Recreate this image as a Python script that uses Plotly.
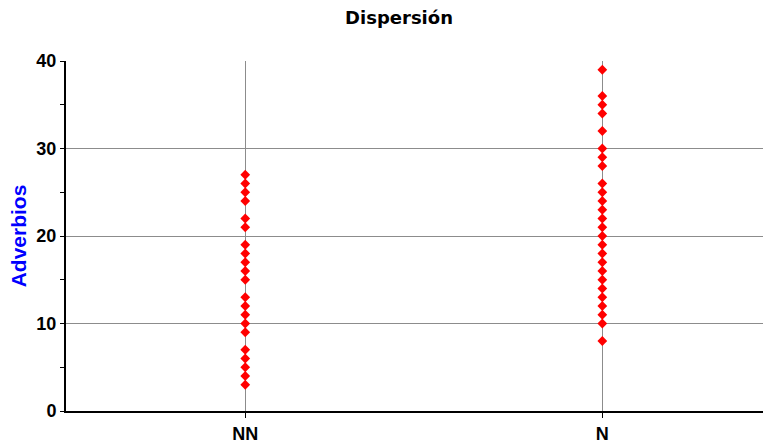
import plotly.graph_objects as go

# Category labels on the x axis
categories = ["NN", "N"]

# Adverb counts observed in each group
nn_values = [27, 26, 25, 24, 22, 21, 19, 18, 17, 16, 15, 13, 12, 11, 10, 9, 7, 6, 5, 4, 3]
n_values = [39, 36, 35, 34, 32, 30, 29, 28, 26, 25, 24, 23, 22, 21, 20, 19, 18, 17,
            16, 15, 14, 13, 12, 11, 10, 8]

y_ticks = [0, 10, 20, 30, 40]

xs = [categories[0]] * len(nn_values) + [categories[1]] * len(n_values)
ys = nn_values + n_values

fig = go.Figure()
fig.add_trace(go.Scatter(
    x=xs, y=ys, mode="markers",
    marker=dict(symbol="diamond", size=7.5, color="#ff0000", line=dict(width=0)),
    showlegend=False, hoverinfo="x+y",
))

fig.update_layout(
    width=763, height=444,
    margin=dict(l=66, r=0, t=61, b=33),
    paper_bgcolor="white", plot_bgcolor="white",
    title=dict(text="<b>Dispersión</b>", x=0.523, xanchor="center", y=0.96, yanchor="middle",
               font=dict(family="DejaVu Sans", size=18, color="black")),
    xaxis=dict(
        type="category", categoryorder="array", categoryarray=categories,
        range=[-0.502, 1.45],
        showgrid=True, gridcolor="#8c8c8c", gridwidth=1,
        showline=True, linecolor="black", linewidth=2,
        ticks="outside", ticklen=5, tickcolor="black", tickwidth=1,
        tickfont=dict(family="Liberation Sans", size=18, color="black", weight="bold"),
        zeroline=False,
    ),
    yaxis=dict(
        range=[0, 40], tickvals=y_ticks,
        showgrid=True, gridcolor="#8c8c8c", gridwidth=1,
        showline=True, linecolor="black", linewidth=2,
        ticks="outside", ticklen=4, tickcolor="black", tickwidth=1,
        minor=dict(dtick=5, ticks="outside", ticklen=4, tickcolor="black", showgrid=False),
        tickfont=dict(family="Liberation Sans", size=18, color="black", weight="bold"),
        zeroline=False,
        title=dict(text="<b>Adverbios</b>", standoff=4,
                   font=dict(family="Liberation Sans", size=21, color="#0000ff")),
    ),
)

fig.write_html("out.html")
